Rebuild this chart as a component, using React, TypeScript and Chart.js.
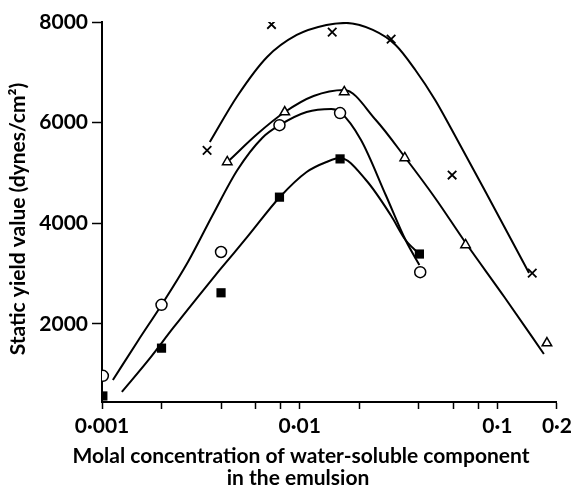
import React, { useEffect, useRef } from 'react';
import { Chart, registerables } from 'chart.js';

Chart.register(...registerables);

// Axis ticks
const xTicks = [0.001, 0.002, 0.004, 0.006, 0.008, 0.01, 0.02, 0.04, 0.06, 0.08, 0.1, 0.2];
const xLabelValues = [0.001, 0.01, 0.1, 0.2];
const xLabelTexts = ['0·001', '0·01', '0·1', '0·2'];
const yTicks = [2000, 4000, 6000, 8000];

const xTitleLines = ['Molal concentration of water-soluble component', 'in the emulsion'];
const yTitle = 'Static yield value (dynes/cm²)';

// Measured points
const crossX = [0.0034, 0.0072, 0.0146, 0.029, 0.059, 0.15];
const crossY = [5450, 7950, 7800, 7660, 4960, 3010];

const triX = [0.0043, 0.0084, 0.0168, 0.034, 0.069, 0.178];
const triY = [5220, 6210, 6610, 5300, 3570, 1620];

const circX = [0.00101, 0.002, 0.004, 0.0079, 0.016, 0.0407];
const circY = [970, 2380, 3430, 5950, 6190, 3030];

const sqX = [0.00101, 0.002, 0.004, 0.0079, 0.016, 0.0403];
const sqY = [570, 1520, 2620, 4520, 5280, 3390];

// Fitted curves
const crossCurveX = [0.00351, 0.00484, 0.00684, 0.00966, 0.01365, 0.01718, 0.02344, 0.03055, 0.03846, 0.04842, 0.05888, 0.0861, 0.1445];
const crossCurveY = [5616, 6530, 7305, 7742, 7941, 7981, 7842, 7544, 7047, 6451, 5855, 4663, 3013];

const triCurveX = [0.00442, 0.0061, 0.00841, 0.01175, 0.01679, 0.02427, 0.0343, 0.0484, 0.0692, 0.1084, 0.1718];
const triCurveY = [5259, 5775, 6212, 6530, 6650, 6053, 5298, 4504, 3609, 2536, 1404];

const circCurveX = [0.001135, 0.00153, 0.002, 0.00272, 0.00363, 0.00484, 0.00646, 0.00794, 0.01084, 0.01445, 0.016, 0.02042, 0.02723, 0.0343, 0.0403];
const circCurveY = [887, 1682, 2378, 3232, 4166, 5060, 5696, 5954, 6212, 6272, 6212, 5656, 4563, 3669, 3172];

const sqCurveX = [0.00126, 0.00172, 0.00229, 0.00305, 0.00394, 0.00543, 0.00794, 0.01084, 0.01365, 0.016, 0.02163, 0.02884, 0.0343, 0.0403];
const sqCurveY = [649, 1285, 1921, 2536, 3073, 3729, 4523, 5020, 5219, 5298, 4861, 4166, 3669, 3391];

const zip = (xs: number[], ys: number[]) => xs.map((x, i) => ({ x, y: ys[i] }));

const FONT = 'Lato, "DejaVu Sans", sans-serif';
const FS = 21;
const FW = 'bold';

const titlePlugin = {
  id: 'customTitles',
  afterDraw(chart: any) {
    const { ctx, chartArea } = chart;
    ctx.save();
    ctx.fillStyle = '#000';
    ctx.font = `${FW} ${FS}px ${FONT}`;
    ctx.textAlign = 'center';
    ctx.textBaseline = 'middle';
    ctx.fillText(xTitleLines[0], chartArea.left + 199, chartArea.bottom + 54);
    ctx.fillText(xTitleLines[1], chartArea.left + 196, chartArea.bottom + 76);
    ctx.translate(18, chartArea.top + 197);
    ctx.rotate(-Math.PI / 2);
    ctx.fillText(yTitle, 0, 0);
    ctx.restore();
  },
};

export default function App() {
  const ref = useRef<HTMLCanvasElement>(null);
  useEffect(() => {
    if (!ref.current) return;
    const pointBase = {
      showLine: false,
      borderColor: '#000',
      borderWidth: 1.5,
      order: 0,
    };
    const curveBase = {
      showLine: true,
      pointRadius: 0,
      borderColor: '#000',
      borderWidth: 2,
      cubicInterpolationMode: 'monotone' as const,
      fill: false,
      order: 1,
    };
    const chart = new Chart(ref.current, {
      type: 'scatter',
      data: {
        datasets: [
          { ...pointBase, data: zip(crossX, crossY), pointStyle: 'crossRot', pointRadius: 6, backgroundColor: '#000', borderWidth: 1.8 },
          { ...pointBase, data: zip(triX, triY), pointStyle: 'triangle', pointRadius: 5.5, backgroundColor: '#fff' },
          { ...pointBase, data: zip(circX, circY), pointStyle: 'circle', pointRadius: 5.5, backgroundColor: '#fff' },
          { ...pointBase, data: zip(sqX, sqY), pointStyle: 'rect', pointRadius: 6.5, backgroundColor: '#000', borderWidth: 0 },
          { ...curveBase, data: zip(crossCurveX, crossCurveY) },
          { ...curveBase, data: zip(triCurveX, triCurveY) },
          { ...curveBase, data: zip(circCurveX, circCurveY) },
          { ...curveBase, data: zip(sqCurveX, sqCurveY) },
        ] as any,
      },
      options: {
        responsive: false,
        animation: false,
        layout: { padding: { left: 0, top: 22, right: 12, bottom: 0 } },
        plugins: { legend: { display: false }, tooltip: { enabled: false }, title: { display: false } },
        scales: {
          x: {
            type: 'logarithmic',
            min: 0.001,
            max: 0.2,
            afterBuildTicks: (s: any) => {
              s.ticks = xTicks.map((v) => ({ value: v }));
            },
            afterFit: (s: any) => {
              s.height = 84;
            },
            ticks: {
              autoSkip: false,
              maxRotation: 0,
              color: '#000',
              padding: 5,
              font: { family: FONT, size: FS, weight: FW },
              callback: (value: any) => {
                const v = Number(value);
                const i = xLabelValues.findIndex((t) => Math.abs(t - v) / t < 1e-6);
                return i >= 0 ? xLabelTexts[i] : '';
              },
            },
            grid: { display: true, drawOnChartArea: false, drawTicks: true, tickLength: 7, tickColor: '#000', tickWidth: 1.5 },
            border: { display: true, color: '#000', width: 2 },
            title: { display: false },
          },
          y: {
            type: 'linear',
            min: 450,
            max: 8000,
            afterBuildTicks: (s: any) => {
              s.ticks = yTicks.map((v) => ({ value: v }));
            },
            afterFit: (s: any) => {
              s.width = 102;
            },
            ticks: {
              color: '#000',
              padding: 4,
              font: { family: FONT, size: FS, weight: FW },
              callback: (value: any) => String(value),
            },
            grid: { display: true, drawOnChartArea: false, drawTicks: true, tickLength: 10, tickColor: '#000', tickWidth: 1.5 },
            border: { display: true, color: '#000', width: 2 },
            title: { display: false },
          },
        },
      },
      plugins: [titlePlugin],
    });
    return () => chart.destroy();
  }, []);
  return (
    <div style={{ position: 'absolute', left: 0, top: 0, width: 577, height: 486, background: '#fff' }}>
      <canvas ref={ref} width={577} height={486} style={{ display: 'block' }} />
    </div>
  );
}
